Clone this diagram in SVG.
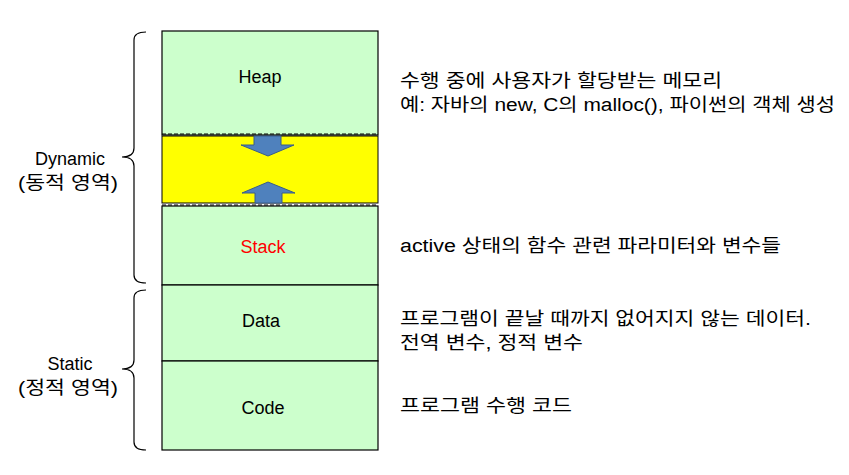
<svg xmlns="http://www.w3.org/2000/svg" width="849" height="475" viewBox="0 0 849 475">
<style>
.seg{fill:#ccffcc;stroke:#000;stroke-width:1.2}
.t{font-family:"Liberation Sans","Noto Sans CJK KR",sans-serif;font-size:18px;fill:#000}
.k{font-family:"Liberation Sans","Noto Sans CJK KR",sans-serif;font-size:18px;fill:#000}
.br{fill:none;stroke:#000;stroke-width:1.2}
.ar{fill:#4f81bd;stroke:#385d8a;stroke-width:1}
</style>
<rect width="849" height="475" fill="#fff"/>
<g id="heap"><rect class="seg" x="162" y="31" width="216" height="104"/><text class="t" x="260" y="83" text-anchor="middle">Heap</text></g>
<g id="free"><rect x="162" y="136" width="216" height="67" fill="#ffff00" stroke="#000" stroke-width="1"/>
<line x1="162" y1="134" x2="378" y2="134" stroke="#000" stroke-dasharray="4,2"/>
<line x1="162" y1="205" x2="378" y2="205" stroke="#000" stroke-dasharray="4,2"/></g>
<g id="stack"><rect class="seg" x="162" y="206" width="216" height="79"/><text x="263" y="253" text-anchor="middle" class="t" style="fill:#ff0000">Stack</text></g>
<g id="data"><rect class="seg" x="162" y="285" width="216" height="76"/><text class="t" x="261" y="327" text-anchor="middle">Data</text></g>
<g id="code"><rect class="seg" x="162" y="361" width="216" height="89"/><text class="t" x="263" y="414" text-anchor="middle">Code</text></g>
<g id="connectors">
<path class="ar" d="M254,136 H281 V145 H294 L268,156 L241,145 H254 Z"/>
<path class="ar" d="M255,203 H282 V193 H295 L268,182 L242,193 H255 Z"/>
<path class="br" d="M146,32 Q134,32 134,40 V148 Q134,157 122,157 Q134,157 134,166 V275 Q134,283 146,283"/>
<path class="br" d="M146,290 Q134,290 134,298 V360 Q134,369 122,369 Q134,369 134,378 V442 Q134,450 146,450"/>
</g>
<g id="labels">
<text class="t" x="70" y="165" text-anchor="middle">Dynamic</text>
<text class="k" x="18" y="189" textLength="100" lengthAdjust="spacingAndGlyphs">(동적 영역)</text>
<text class="t" x="70" y="370" text-anchor="middle">Static</text>
<text class="k" x="18" y="394" textLength="100" lengthAdjust="spacingAndGlyphs">(정적 영역)</text>
<text class="k" x="400" y="87" textLength="322" lengthAdjust="spacingAndGlyphs">수행 중에 사용자가 할당받는 메모리</text>
<text class="k" x="400" y="111" textLength="435" lengthAdjust="spacingAndGlyphs">예: 자바의 new, C의 malloc(), 파이썬의 객체 생성</text>
<text class="k" x="400" y="252" textLength="381" lengthAdjust="spacingAndGlyphs">active 상태의 함수 관련 파라미터와 변수들</text>
<text class="k" x="400" y="325" textLength="411" lengthAdjust="spacingAndGlyphs">프로그램이 끝날 때까지 없어지지 않는 데이터.</text>
<text class="k" x="400" y="349" textLength="183" lengthAdjust="spacingAndGlyphs">전역 변수, 정적 변수</text>
<text class="k" x="400" y="412" textLength="172" lengthAdjust="spacingAndGlyphs">프로그램 수행 코드</text>
</g>
</svg>
